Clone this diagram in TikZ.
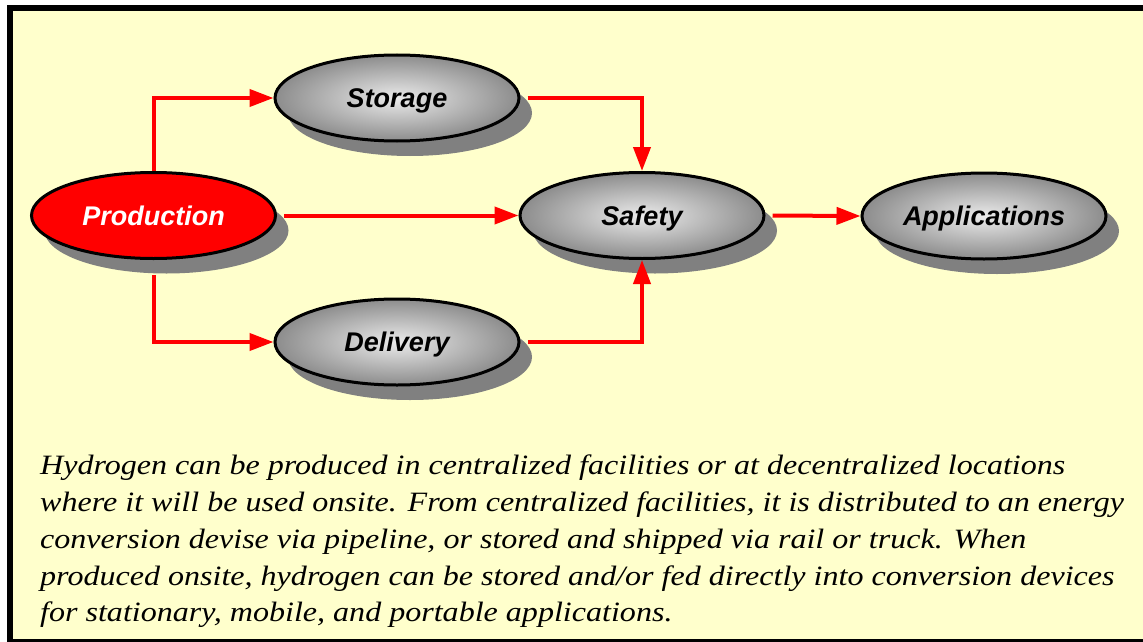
\documentclass[tikz,border=0pt]{standalone}
\usepackage{fontspec}
\setmainfont{Liberation Serif}
\newfontfamily\stagefont{Liberation Sans}
\newfontfamily\notefont{Liberation Serif}[FakeStretch=1.145]
\usepackage{tikz}
\usetikzlibrary{positioning, shapes.geometric, shadows, arrows.meta}
\definecolor{paper}{RGB}{255,255,204}
\definecolor{shadowgrey}{RGB}{128,128,128}

\begin{document}
\begin{tikzpicture}[x=1pt,y=-1pt,
          stage/.style={ellipse,draw,line width=3pt,minimum width=244pt,minimum height=86pt,inner sep=0pt,text depth=0pt,
            drop shadow={shadow xshift=13pt,shadow yshift=-15pt,fill=shadowgrey,opacity=1},
            font=\stagefont\bfseries\itshape\fontsize{27}{30}\selectfont},
          greystage/.style={stage,inner color=black!8,outer color=black!45},
          redstage/.style={stage,fill=red,text=white},
          flow/.style={draw=red,line width=4pt,-{Triangle[length=24pt,width=17pt]}}
        ]
        \useasboundingbox (0,0) rectangle (1143,642);
        \clip (0,0) rectangle (1143,642);
        \draw[fill=paper,line width=6pt] (9.5,8) rectangle (1160,641.5);
        % the five stages
        \node[redstage] (prod) at (153.5,215.5) {Production};
        \node[greystage] (stor) at (397,98) {Storage};
        \node[greystage] (deliv) at (397,342) {Delivery};
        \node[greystage] (safe) at (642,215.5) {Safety};
        \node[greystage] (appl) at (984,216) {Applications};
        % flows between them
        \draw[flow] (prod.north) |- (stor.west);
        \draw[flow,shorten <=15pt] (prod.south) |- (deliv.west);
        \draw[flow,shorten <=7pt] (prod.east) -- (safe.west);
        \draw[flow,shorten <=7pt] (stor.east) -| (safe.north);
        \draw[flow,shorten <=7pt] (deliv.east) -| (safe.south);
        \draw[flow,shorten <=7pt] (safe.east) -- (appl.west);
        % caption
        \node[anchor=north west,inner sep=0pt,align=left,font=\notefont\itshape\fontsize{28}{36.7}\selectfont] (note) at (40,455)
          {Hydrogen can be produced in centralized facilities or at decentralized locations\\
           where it will be used onsite. From centralized facilities, it is distributed to an energy\\
           conversion devise via pipeline, or stored and shipped via rail or truck. When\\
           produced onsite, hydrogen can be stored and/or fed directly into conversion devices\\
           for stationary, mobile, and portable applications.};
      \end{tikzpicture}
\end{document}
